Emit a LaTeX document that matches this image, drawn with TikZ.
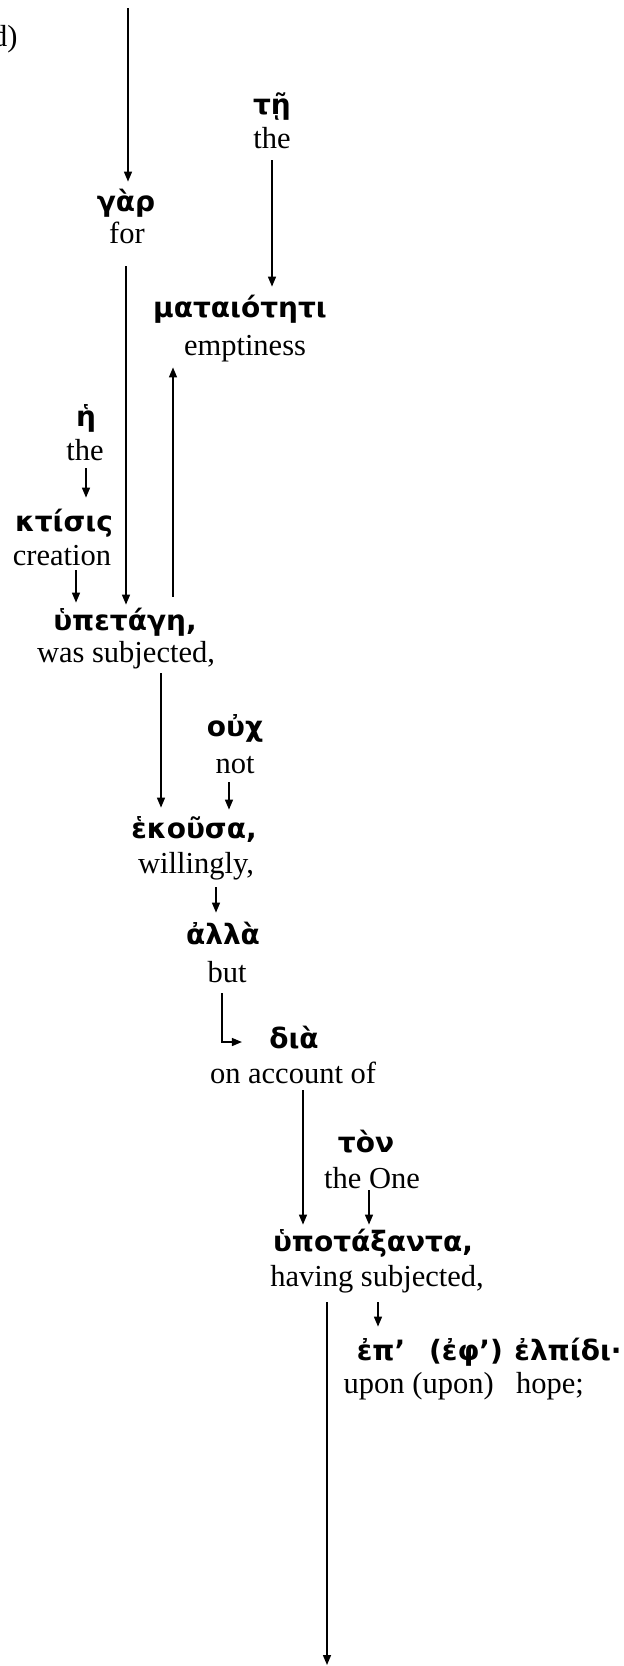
\documentclass[tikz,border=0pt]{standalone}
\usepackage{fontspec}
\setmainfont{Liberation Serif}
\newfontfamily\gk[Script=Greek]{DejaVu Sans}
\usetikzlibrary{arrows.meta,calc}
\begin{document}
\begin{tikzpicture}[x=0.5pt,y=-0.5pt,
  gr/.style={font=\gk\bfseries\fontsize{14}{16}\selectfont, inner sep=0pt, anchor=base, text height=10pt, text depth=2.5pt},
  en/.style={font=\fontsize{15.25}{17}\selectfont, inner sep=0pt, anchor=base, text height=10.5pt, text depth=3.5pt},
  arr/.style={line width=0.7pt, -{Triangle[length=5pt,width=4pt]}}]
\useasboundingbox (0,0) rectangle (623,1666);

\node[en, anchor=base east] (lab) at (18,46) {d)};

\coordinate (top) at (128,8);
\coordinate (bot) at (327,1665);

\node[gr] (gar) at (126,211) {γὰρ};
\node[en] (for) at (127,243) {for};
\node[gr] (te) at (272,114) {τῇ};
\node[en] (the1) at (272,148) {the};
\node[gr] (mat) at (240,317) {ματαιότητι};
\node[en] (empt) at (245,355) {emptiness};
\node[gr] (he) at (86,426) {ἡ};
\node[en] (the2) at (85,460) {the};
\node[gr] (kt) at (64,531) {κτίσις};
\node[en] (crea) at (62,565) {creation};
\node[gr] (hyp) at (125,630) {ὑπετάγη,};
\node[en] (was) at (126,662) {was subjected,};
\node[gr] (ouch) at (235,736) {οὐχ};
\node[en] (not) at (235,773) {not};
\node[gr] (hek) at (194,838) {ἑκοῦσα,};
\node[en] (will) at (196,873) {willingly,};
\node[gr] (alla) at (223,944) {ἀλλὰ};
\node[en] (but) at (227,982) {but};
\node[gr] (dia) at (294,1048) {διὰ};
\node[en] (acc) at (293,1083) {on account of};
\node[gr] (ton) at (366,1152) {τὸν};
\node[en] (one) at (372,1188) {the One};
\node[gr] (hypo) at (373,1251) {ὑποτάξαντα,};
\node[en] (hav) at (377,1286) {having subjected,};
\node[gr] (ep) at (381,1360) {ἐπ’};
\node[en] (upon) at (374,1393) {upon};
\node[gr] (eph) at (466,1360) {(ἐφ’)};
\node[en] (upon2) at (453,1393) {(upon)};
\node[gr, anchor=base west] (elp) at (514,1360) {ἐλπίδι·};
\node[en] (hope) at (550,1393) {hope;};

\draw[arr] (top) -- ($(top |- gar.north)+(0,-9)$);
\draw[arr] ($(for.south)+(-1,16)$) -- ($(for.south |- hyp.north)+(-1,-5)$);
\draw[arr] ($(the1.south)+(0,5)$) -- ($(the1.south |- mat.north)+(0,-10)$);
\draw[arr] ($(the2.south)+(1,1)$) -- ($(the2.south |- kt.north)+(1,-13)$);
\draw[arr] ($(crea.south)+(14,-2)$) -- ($(crea.south |- hyp.north)+(14,-7)$);
\draw[arr] ($(hyp.north)+(48,-13)$) -- ($(hyp.north |- empt.south)+(48,5)$);
\draw[arr] ($(was.south)+(35,4)$) -- ($(was.south |- hek.north)+(35,-10)$);
\draw[arr] ($(not.south)+(-6,2)$) -- ($(not.south |- hek.north)+(-6,-8)$);
\draw[arr] ($(will.south)+(20,7)$) -- ($(will.south |- alla.north)+(20,-11)$);
\draw[arr] ($(but.south)+(-5,4)$) |- ($(dia.west)+(-27,1.5)$);
\draw[arr] ($(acc.south)+(10,0)$) -- ($(acc.south |- hypo.north)+(10,-6)$);
\draw[arr] ($(one.south)+(-3,-5)$) -- ($(one.south |- hypo.north)+(-3,-6)$);
\draw[arr] ($(hav.south)+(-50,9)$) -- (bot);
\draw[arr] ($(hav.south)+(1,9)$) -- ($(hav.south |- ep.north)+(1,-13)$);
\end{tikzpicture}
\end{document}
